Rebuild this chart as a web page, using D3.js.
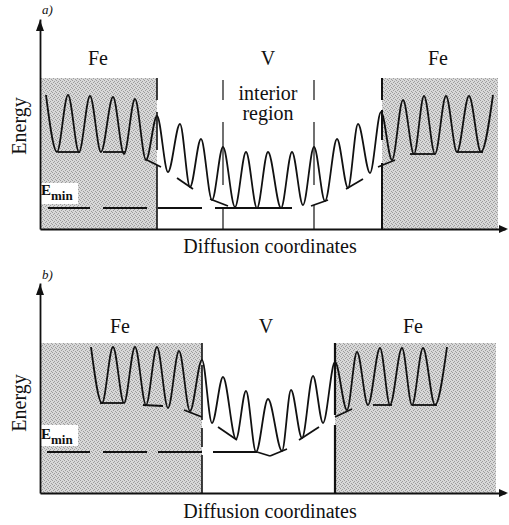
<!DOCTYPE html>
<html><head><meta charset="utf-8">
<script src="https://cdn.jsdelivr.net/npm/d3@7"></script>
<style>body{margin:0;background:#fff}</style>
</head><body><svg id="c" width="509" height="525"></svg>
<script>
// ---------- DATA (diffusion coordinate units, energy units) ----------
const regionLabels = ["Fe", "V", "Fe"];
const xLabel = "Diffusion coordinates";
const yLabel = "Energy";

// Panel a
const aCurveX = [0.6,1.7,2.8,3.9,5.0,6.1,7.3,8.4,9.5,10.6,11.7,12.8,14.0,15.0,16.1,17.2,18.3,19.5,20.6,21.7,22.8,24.1,25.2,26.3,27.4,28.5,29.7,30.8,31.8,33.0,34.1,35.2,36.3,37.4,38.4,39.5,40.6,41.7,42.9,44.1,45.3];
const aCurveE = [13.4,7.7,13.4,7.7,13.3,7.7,13.2,7.5,13.0,6.9,11.3,5.7,10.5,4.2,9.0,2.9,8.2,2.2,7.7,2.1,7.7,2.1,7.7,2.4,8.2,2.8,9.0,4.1,10.5,5.6,11.7,6.9,12.9,7.5,13.3,7.5,13.3,7.7,13.3,7.7,13.4];
const aMarks = [[1.8,7.7,4.0,7.7],[6.3,7.7,8.5,7.7],[10.5,7.0,12.1,6.2],[13.7,5.1,15.3,4.0],[17.0,3.0,18.8,2.3],[27.1,2.3,28.8,2.9],[30.6,4.0,32.3,5.0],[33.8,6.2,35.5,6.9],[37.0,7.5,39.5,7.5],[41.7,7.7,44.3,7.7]];
const aEmin = 2.1;
const aEminDashes = [[0.8,5.0],[6.3,10.7],[11.8,16.2],[17.5,25.2]];
const aDividerX = [11.7, 18.3, 27.4, 34.2];
const aDividerSegs = [[[15.1,12.9],[11.7,7.9],[6.4,0]], [[14.9,12.9],[10.7,4.4],[2.1,0]], [[14.9,12.9],[10.7,4.4],[2.4,0]], [[15.1,12.9],[11.9,8.9],[6.6,0]]];
const aDividerW = [1.6, 1.2, 1.2, 2];
const aShade = [[0,11.7],[34.2,45.8]];
const aShadeTop = 15.1;
const aInterior = ["interior", "region"];

// Panel b
const bCurveX = [5.1,6.2,7.3,8.4,9.5,10.6,11.7,12.8,13.9,15.0,16.2,17.2,18.3,19.6,20.6,21.6,22.8,24.2,25.1,26.2,27.3,28.3,29.5,30.7,31.7,32.8,34.0,35.0,36.2,37.2,38.3,39.5,40.7];
const bCurveE = [14.6,9.0,14.6,9.0,14.6,8.8,14.6,8.5,14.2,8.2,13.3,7.0,11.6,5.4,10.2,4.1,9.4,4.2,10.3,5.5,11.7,7.0,13.1,8.3,14.1,8.8,14.5,8.8,14.5,8.8,14.5,8.8,14.6];
const bMarks = [[6.0,9.0,8.3,9.0],[10.3,8.8,12.3,8.7],[14.4,8.3,16.2,7.6],[17.8,6.6,19.7,5.3],[21.7,4.1,23.0,3.7],[23.0,3.7,24.7,4.4],[25.9,5.3,27.9,6.6],[29.5,7.6,31.2,8.4],[33.3,8.8,35.2,8.8],[37.2,8.8,39.7,8.8]];
const bEmin = 4.1;
const bEminDashes = [[0.7,5.0],[6.3,10.7],[11.8,16.2],[17.3,21.7]];
const bDividerX = [16.2, 29.5];
const bDividerSegs = [[[15.0,13.3],[12.8,7.3],[6.5,4.6],[3.8,0]], [[15.0,7.8],[6.8,0]]];
const bDividerW = [1.6, 2.2];
const bShade = [[0,16.2],[29.5,45.6]];
const bShadeTop = 15.0;

// ---------- DRAW ----------
const svg = d3.select("#c");
const FONT = "Liberation Serif";

// stipple pattern for shaded regions
const pat = svg.append("defs").append("pattern").attr("id", "stip")
  .attr("patternUnits", "userSpaceOnUse").attr("width", 4).attr("height", 4);
pat.append("rect").attr("width", 4).attr("height", 4).attr("fill", "#d8d8d8");
[[0,0],[2,1],[1,2],[3,3]].forEach(c => pat.append("rect").attr("x", c[0]).attr("y", c[1])
  .attr("width", 1).attr("height", 1).attr("fill", "#9c9c9c"));

const panels = [
  {tag:"a)", oy:229, cx:aCurveX, ce:aCurveE, marks:aMarks, emin:aEmin, dashes:aEminDashes,
   divX:aDividerX, divS:aDividerSegs, divW:aDividerW, shade:aShade, shadeTop:aShadeTop, labelX:[5.8,22.8,39.8], labelY:65,
   tagY:14, energyY:126, xlabY:253, eminBox:[183,204], eBase:195},
  {tag:"b)", oy:493, cx:bCurveX, ce:bCurveE, marks:bMarks, emin:bEmin, dashes:bEminDashes,
   divX:bDividerX, divS:bDividerSegs, divW:bDividerW, shade:bShade, shadeTop:bShadeTop, labelX:[8.0,22.6,37.3], labelY:333,
   tagY:279, energyY:403, xlabY:518, eminBox:[425,446], eBase:439}
];

panels.forEach((p, pi) => {
  const x = d3.scaleLinear().domain([0, 46.5]).range([40, 505]);
  const y = d3.scaleLinear().domain([0, 21]).range([p.oy, p.oy - 210]);
  const g = svg.append("g");

  // shaded Fe regions
  g.selectAll("rect.shade").data(p.shade).join("rect")
    .attr("x", d => x(d[0])).attr("width", d => x(d[1]) - x(d[0]))
    .attr("y", y(p.shadeTop)).attr("height", y(0) - y(p.shadeTop))
    .attr("fill", "url(#stip)");

  // dividers
  p.divX.forEach((dx, i) => {
    g.selectAll(null).data(p.divS[i]).join("line")
      .attr("x1", x(dx)).attr("x2", x(dx))
      .attr("y1", d => y(d[0])).attr("y2", d => y(d[1]))
      .attr("stroke", "#111").attr("stroke-width", p.divW[i]);
  });

  // Emin dashes
  g.selectAll(null).data(p.dashes).join("line")
    .attr("x1", d => x(d[0])).attr("x2", d => x(d[1]))
    .attr("y1", y(p.emin)).attr("y2", y(p.emin))
    .attr("stroke", "#111").attr("stroke-width", 1.8);

  // Emin label box
  g.append("rect").attr("x", 40).attr("width", 38)
    .attr("y", p.eminBox[0]).attr("height", p.eminBox[1] - p.eminBox[0]).attr("fill", "#fff");
  const et = g.append("text").attr("x", 41).attr("y", p.eBase).attr("font-family", FONT)
    .attr("font-weight", "bold").attr("font-size", 15).attr("fill", "#111");
  et.append("tspan").text("E");
  et.append("tspan").attr("dy", 5).attr("font-size", 13).text("min");

  // energy curve
  const pts = p.cx.map((v, i) => [v, p.ce[i]]);
  g.append("path").datum(pts)
    .attr("d", d3.line().x(d => x(d[0])).y(d => y(d[1])).curve(d3.curveMonotoneX))
    .attr("fill", "none").attr("stroke", "#111").attr("stroke-width", 1.8).attr("stroke-linejoin", "round");

  // marker segments
  g.selectAll(null).data(p.marks).join("line")
    .attr("x1", d => x(d[0])).attr("y1", d => y(d[1]))
    .attr("x2", d => x(d[2])).attr("y2", d => y(d[3]))
    .attr("stroke", "#111").attr("stroke-width", 1.8);

  // axes
  const xAxis = g.append("g").attr("transform", `translate(0,${p.oy})`)
    .call(d3.axisBottom(x).ticks(0).tickSizeOuter(0));
  const yAxis = g.append("g").attr("transform", `translate(40,0)`)
    .call(d3.axisLeft(y).ticks(0).tickSizeOuter(0));
  [xAxis, yAxis].forEach(a => a.select(".domain").attr("stroke", "#111").attr("stroke-width", 1.8));
  // arrowheads
  const xe = x.range()[1], yt = y.range()[1];
  g.append("path").attr("d", `M${xe+3},${p.oy} L${xe-6},${p.oy-4} L${xe-6},${p.oy+4} Z`).attr("fill", "#111");
  g.append("path").attr("d", `M40,${yt+1} L36,${yt+12} L44,${yt+12} Z`).attr("fill", "#111");

  // labels
  const txt = (sel) => sel.attr("font-family", FONT).attr("fill", "#111");
  g.selectAll(null).data(regionLabels).join("text")
    .attr("x", (d, i) => x(p.labelX[i])).attr("y", p.labelY)
    .attr("text-anchor", "middle").attr("font-size", 20).text(d => d).call(txt);
  g.append("text").attr("x", 42).attr("y", p.tagY).attr("font-style", "italic")
    .attr("font-size", 13).text(p.tag).call(txt);
  g.append("text").attr("transform", `translate(26,${p.energyY}) rotate(-90)`)
    .attr("text-anchor", "middle").attr("font-size", 20).text(yLabel).call(txt);
  g.append("text").attr("x", 270).attr("y", p.xlabY).attr("text-anchor", "middle")
    .attr("font-size", 20).text(xLabel).call(txt);

  if (pi === 0) {
    g.selectAll(null).data(aInterior).join("text")
      .attr("x", x(22.8)).attr("y", (d, i) => 100 + i * 20)
      .attr("text-anchor", "middle").attr("font-size", 20).text(d => d).call(txt);
  }
});
</script></body></html>
